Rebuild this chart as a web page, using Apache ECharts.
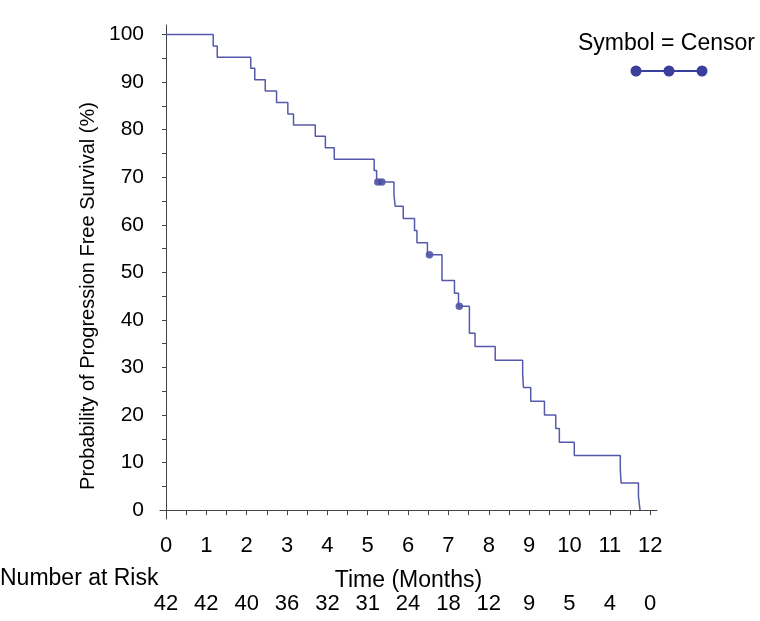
<!DOCTYPE html>
<html>
<head>
<meta charset="utf-8">
<script src="https://cdn.jsdelivr.net/npm/echarts@6/dist/echarts.min.js"></script>
<style>html,body{margin:0;padding:0;background:#fff}#c{width:760px;height:621px}</style>
</head>
<body>
<div id="c"></div>
<script>
// Kaplan-Meier step points (time in months, survival %)
const eventTimes = [0, 1.17, 1.27, 2.10, 2.20, 2.46, 2.74, 3.02, 3.16, 3.70, 3.95, 4.17, 5.16, 5.22, 5.65, 5.68, 5.88, 6.16, 6.22, 6.48, 6.84, 7.15, 7.25, 7.52, 7.66, 8.16, 8.84, 8.86, 9.04, 9.38, 9.66, 9.75, 10.12, 11.26, 11.28, 11.71, 11.75];
const survival   = [100, 97.6, 95.2, 92.9, 90.5, 88.1, 85.7, 83.3, 81.0, 78.6, 76.2, 73.8, 71.4, 69.0, 66.4, 63.9, 61.3, 58.8, 56.2, 53.7, 48.3, 45.6, 42.9, 37.2, 34.4, 31.5, 28.6, 25.8, 22.9, 20.0, 17.2, 14.3, 11.5, 8.6, 5.7, 2.9, 0];
// Censored observations
const censorTimes = [5.25, 5.35, 6.53, 7.27];
const censorValues = [69.0, 69.0, 53.7, 42.9];
// Axis ticks and number-at-risk table
const xTicks = [0, 1, 2, 3, 4, 5, 6, 7, 8, 9, 10, 11, 12];
const yTicks = [0, 10, 20, 30, 40, 50, 60, 70, 80, 90, 100];
const numberAtRisk = [42, 42, 40, 36, 32, 31, 24, 18, 12, 9, 5, 4, 0];

const xMinor = [];
for (let i = 0; i <= 24; i++) xMinor.push(i / 2);
const yMinor = [];
for (let i = 0; i <= 20; i++) yMinor.push(i * 5);

const FONT = 'Liberation Sans, Arial, sans-serif';
const LINE = '#5559aa';
const DOT = '#3a3f9c';
const AXIS = '#444';

const chart = echarts.init(document.getElementById('c'), null, {renderer: 'canvas'});
const xMin = -0.149, xMax = 12.17;
chart.setOption({
  animation: false,
  backgroundColor: '#fff',
  grid: {left: 160, right: 103, top: 25, bottom: 102, containLabel: false},
  xAxis: [{
    type: 'value', min: xMin, max: xMax,
    name: 'Time (Months)', nameLocation: 'middle', nameGap: 50,
    nameTextStyle: {fontFamily: FONT, fontSize: 23, color: '#000'},
    axisLine: {show: true, lineStyle: {color: AXIS, width: 1}},
    axisTick: {show: true, length: 5, customValues: xMinor, lineStyle: {color: AXIS}},
    axisLabel: {customValues: xTicks, margin: 16, fontFamily: FONT, fontSize: 22, color: '#000'},
    splitLine: {show: false}
  }, {
    type: 'value', min: xMin, max: xMax, position: 'bottom', offset: 58,
    axisLine: {show: false}, axisTick: {show: false}, splitLine: {show: false},
    axisLabel: {customValues: xTicks, margin: 16, fontFamily: FONT, fontSize: 22, color: '#000',
      formatter: v => String(numberAtRisk[xTicks.indexOf(Math.round(v))])}
  }],
  yAxis: {
    type: 'value', min: -1.85, max: 102,
    name: 'Probability of Progression Free Survival (%)', nameLocation: 'middle', nameGap: 62,
    nameTextStyle: {fontFamily: FONT, fontSize: 20, color: '#000', padding: [0, 48, 0, 0]},
    axisLine: {show: true, lineStyle: {color: AXIS, width: 1}},
    axisTick: {show: true, length: 4, customValues: yMinor, lineStyle: {color: AXIS}},
    axisLabel: {customValues: yTicks, margin: 16, fontFamily: FONT, fontSize: 21, color: '#000'},
    splitLine: {show: false}
  },
  series: [{
    type: 'line', step: 'end', xAxisIndex: 0,
    data: eventTimes.map((t, i) => [t, survival[i]]),
    showSymbol: false, symbol: 'none',
    lineStyle: {color: LINE, width: 1.5}
  }, {
    type: 'scatter', xAxisIndex: 0,
    data: censorTimes.map((t, i) => [t, censorValues[i]]),
    symbol: 'circle', symbolSize: 7.5,
    itemStyle: {color: DOT}
  }],
  graphic: [
    {type: 'text', left: 0, top: 567, style: {text: 'Number at Risk', font: '23px ' + FONT, fill: '#000'}},
    {type: 'text', right: 5, top: 32, style: {text: 'Symbol = Censor', font: '23px ' + FONT, fill: '#000'}},
    {type: 'line', shape: {x1: 636, y1: 71, x2: 702, y2: 71}, style: {stroke: DOT, lineWidth: 2}},
    {type: 'circle', shape: {cx: 636, cy: 71, r: 5.5}, style: {fill: DOT}},
    {type: 'circle', shape: {cx: 669, cy: 71, r: 5.5}, style: {fill: DOT}},
    {type: 'circle', shape: {cx: 702, cy: 71, r: 5.5}, style: {fill: DOT}}
  ]
});
</script>
</body>
</html>
